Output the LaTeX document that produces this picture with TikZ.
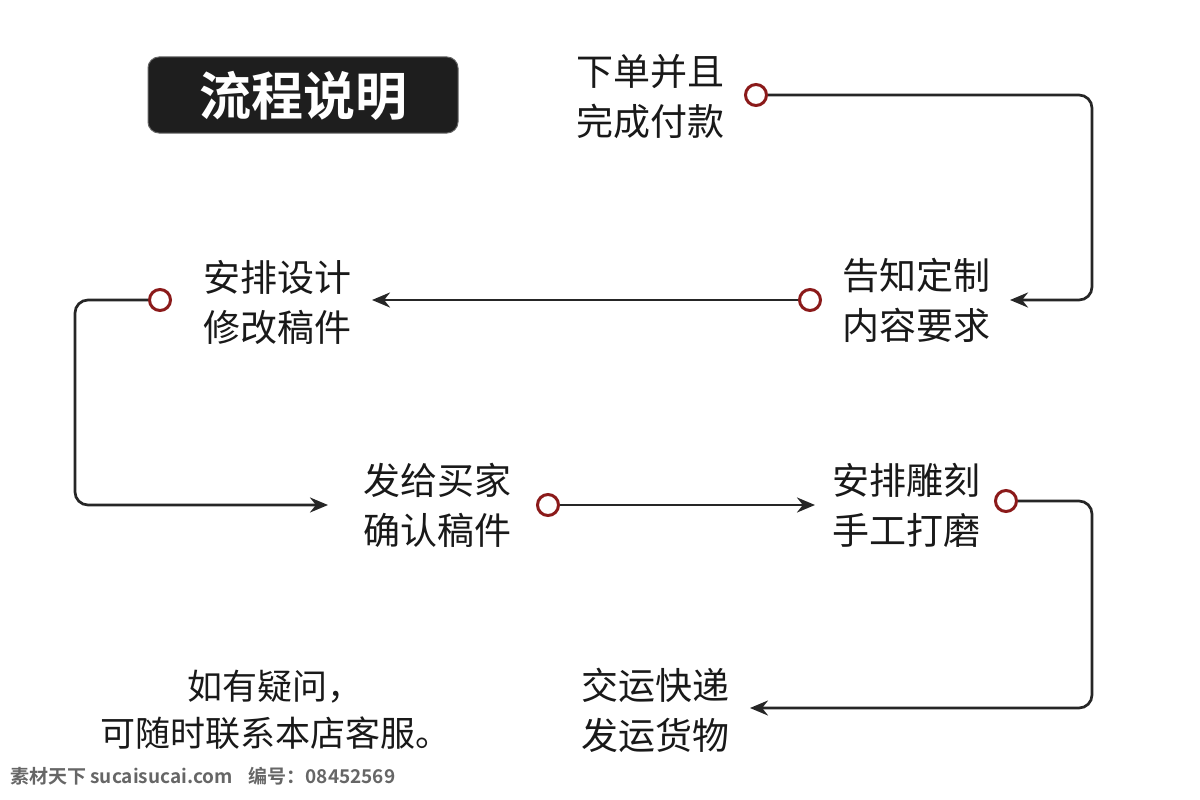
\documentclass[tikz,border=0pt]{standalone}
\usepackage{fontspec}
\newfontfamily\cjk{Noto Sans CJK SC}
\newfontfamily\cjkb{Noto Sans CJK SC Bold}
\usetikzlibrary{arrows.meta}
\definecolor{ring}{HTML}{8B1A1A}
\definecolor{boxbg}{HTML}{1E1E1E}
\tikzset{
  lbl/.style={align=center, inner sep=0pt, font={\cjk\fontsize{37}{50}\selectfont}, text=black!90},
  ringnode/.style={circle, draw=ring, line width=3pt, fill=white, minimum size=21pt, inner sep=0pt},
  conn/.style={line width=2.7pt, draw=black!85, rounded corners=13pt},
  arr/.style={conn, -{Stealth[length=18pt,width=15pt]}}
}
\begin{document}
\begin{tikzpicture}[x=1pt,y=-1pt]
\useasboundingbox (0,0) rectangle (1200,800);
% title
\node[fill=boxbg, rounded corners=11pt, minimum width=310pt, minimum height=76pt, draw=black!60, line width=1pt] (title) at (303,95) {};
\node[text=white, font={\cjkb\fontsize{52}{54}\selectfont}] (titletext) at (303,96) {流程说明};
% labels
\node[lbl] (l1) at (650,97) {下单并且\\完成付款};
\node[lbl] (l2) at (916,300) {告知定制\\内容要求};
\node[lbl] (l3) at (277,302) {安排设计\\修改稿件};
\node[lbl] (l4) at (437,505) {发给买家\\确认稿件};
\node[lbl] (l5) at (906,505) {安排雕刻\\手工打磨};
\node[lbl] (l6) at (655,710) {交运快递\\发运货物};
\node[lbl, font={\cjk\fontsize{35}{47}\selectfont}] (note) at (275,710) {如有疑问，\\可随时联系本店客服。};
% rings
\node[ringnode] (r1) at (756,95) {};
\node[ringnode] (r2) at (810,300) {};
\node[ringnode] (r3) at (160,300) {};
\node[ringnode] (r4) at (548,505) {};
\node[ringnode] (r5) at (1006,501) {};
% corner and end coordinates
\coordinate (k1a) at (1092,95);
\coordinate (k1b) at (1092,300);
\coordinate (t1) at (1010,300);
\coordinate (t2) at (372,300);
\coordinate (k3a) at (75,300);
\coordinate (k3b) at (75,505);
\coordinate (t3) at (328,505);
\coordinate (t4) at (815,505);
\coordinate (k5a) at (1092,501);
\coordinate (k5b) at (1092,708);
\coordinate (t5) at (750,708);
% connectors
\draw[arr] (r1.east) -- (k1a) -- (k1b) -- (t1);
\draw[arr] (r2.west) -- (t2);
\draw[arr] (r3.west) -- (k3a) -- (k3b) -- (t3);
\draw[arr] (r4.east) -- (t4);
\draw[arr] (r5.east) -- (k5a) -- (k5b) -- (t5);
% watermark
\node[anchor=west, inner sep=0pt, text=black!60, font={\cjkb\fontsize{19}{22}\selectfont}] (wm) at (10,776) {素材天下 sucaisucai.com\hspace{16pt}编号：08452569};
\end{tikzpicture}
\end{document}
